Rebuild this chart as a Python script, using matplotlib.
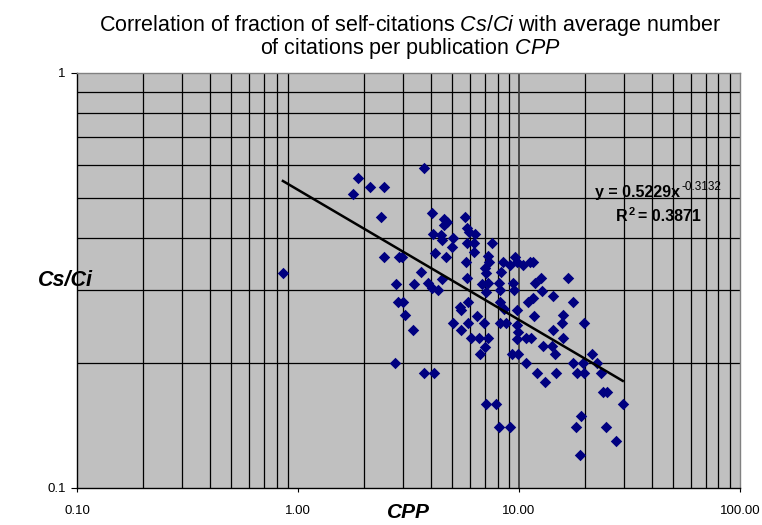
import numpy as np
import matplotlib
matplotlib.use("Agg")
import matplotlib.pyplot as plt

plt.rcParams['font.family'] = ['Liberation Sans', 'DejaVu Sans']
plt.rcParams['mathtext.fontset'] = 'custom'
plt.rcParams['mathtext.rm'] = 'Liberation Sans'
plt.rcParams['mathtext.it'] = 'Liberation Sans:italic'
plt.rcParams['mathtext.bf'] = 'Liberation Sans:bold'

# average number of citations per publication
cpp = [1.87, 2.12, 2.45, 1.77, 2.37, 2.45, 0.855, 2.86, 2.78, 2.83,
       3.72, 4.04, 4.58, 4.72, 4.58, 5.70, 5.82, 5.95, 6.32, 4.08,
       4.44, 4.49, 5.03, 4.97, 5.82, 6.25, 7.55, 4.17, 4.67, 6.25,
       2.95, 7.24, 7.30, 5.76, 8.47, 9.59, 9.80, 9.10, 10.4, 11.2,
       7.02, 7.10, 8.30, 3.60, 3.35, 3.88, 4.04, 4.30, 4.49, 5.82,
       6.80, 7.24, 8.12, 9.40, 9.50, 8.20, 7.10, 5.88, 2.98, 5.41,
       11.0, 8.20,
       11.6, 12.6, 11.8, 16.7, 12.7, 14.3, 17.5, 11.6,
       3.05, 3.31, 3.72, 4.12, 5.03, 5.47, 5.88, 6.45, 6.95, 6.07,
       6.58, 7.24, 7.02, 6.65, 5.47, 8.20, 8.70, 9.80, 9.90, 9.80,
       10.8, 9.30, 9.90, 10.8, 7.10, 7.86, 8.12, 9.10,
       11.7, 15.8, 15.6, 19.7, 14.3, 15.8, 11.4, 12.8, 14.1, 14.5,
       21.4, 17.5, 19.4, 22.6, 12.1, 14.7, 18.3, 19.8, 23.5, 13.1,
       24.0, 25.0, 29.5, 19.1, 18.1, 24.7, 27.5, 18.9,
       2.75, 8.6, 9.8]

# fraction of self-citations Cs/Ci
cs_ci = [0.558, 0.531, 0.531, 0.511, 0.45, 0.36, 0.33, 0.36, 0.31, 0.28,
         0.59, 0.46, 0.445, 0.437, 0.43, 0.45, 0.423, 0.414, 0.41, 0.41,
         0.407, 0.396, 0.40, 0.38, 0.39, 0.39, 0.389, 0.368, 0.36, 0.37,
         0.36, 0.362, 0.35, 0.35, 0.35, 0.36, 0.35, 0.345, 0.345, 0.35,
         0.339, 0.33, 0.332, 0.332, 0.31, 0.312, 0.303, 0.30, 0.319, 0.32,
         0.31, 0.312, 0.312, 0.312, 0.30, 0.30, 0.297, 0.28, 0.28, 0.273,
         0.28, 0.28,
         0.35, 0.32, 0.312, 0.32, 0.298, 0.29, 0.28, 0.287,
         0.261, 0.24, 0.189, 0.189, 0.25, 0.24, 0.25, 0.26, 0.25, 0.23,
         0.23, 0.23, 0.219, 0.21, 0.268, 0.25, 0.25, 0.247, 0.238, 0.229,
         0.23, 0.21, 0.21, 0.20, 0.159, 0.159, 0.14, 0.14,
         0.26, 0.261, 0.25, 0.25, 0.24, 0.23, 0.23, 0.22, 0.22, 0.21,
         0.21, 0.20, 0.20, 0.20, 0.189, 0.189, 0.189, 0.189, 0.189, 0.18,
         0.17, 0.17, 0.159, 0.149, 0.14, 0.14, 0.13, 0.12,
         0.20, 0.27, 0.268]

# power trend line y = a * x^b
fit_a = 0.5229
fit_b = -0.3132
fit_r2 = 0.3871

x_ticks = [0.1, 1, 10, 100]
x_ticklabels = ["0.10", "1.00", "10.00", "100.00"]

fig = plt.figure(figsize=(7.62, 5.25), dpi=100)
ax = fig.add_axes([0.101, 0.0705, 0.870, 0.7905])
ax.set_facecolor('#C0C0C0')
ax.set_xscale('log')
ax.set_yscale('log')
ax.set_xlim(0.1, 100)
ax.set_ylim(0.1, 1)

# grid lines (Excel style: every 1..9 of each decade)
for dec in [0.1, 1, 10]:
    for k in range(2, 10):
        ax.axvline(dec * k, color='black', lw=0.9, zorder=1)
for k in range(2, 10):
    ax.axhline(0.1 * k, color='black', lw=0.9, zorder=1)
ax.axvline(10, color='#404040', lw=1.3, zorder=1)

ax.scatter(cpp, cs_ci, marker='D', s=34, color='#000080', lw=0, zorder=3)

xf = np.logspace(np.log10(min(cpp)), np.log10(max(cpp)), 50)
ax.plot(xf, fit_a * xf ** fit_b, color='black', lw=1.8, zorder=4)

# trend line equation with superscripts
t1 = ax.text(0.781, 0.713, "y = %.4fx" % fit_a, transform=ax.transAxes,
             fontsize=11.5, fontweight='bold', ha='left', va='center', zorder=5)
t2 = ax.text(0.813, 0.653, "R", transform=ax.transAxes,
             fontsize=11.5, fontweight='bold', ha='left', va='center', zorder=5)
fig.canvas.draw()
inv = ax.transAxes.inverted()
bb1 = t1.get_window_extent().transformed(inv)
ax.text(bb1.x1 + 0.002, bb1.y1 - 0.005, "%.4f" % fit_b, transform=ax.transAxes,
        fontsize=8.5, ha='left', va='center', zorder=5)
bb2 = t2.get_window_extent().transformed(inv)
ax.text(bb2.x1 + 0.002, bb2.y1 - 0.005, "2", transform=ax.transAxes,
        fontsize=8, fontweight='bold', ha='left', va='center', zorder=5)
ax.text(bb2.x1 + 0.016, 0.653, "= %.4f" % fit_r2, transform=ax.transAxes,
        fontsize=11.5, fontweight='bold', ha='left', va='center', zorder=5)

ax.minorticks_off()
ax.set_xticks(x_ticks)
ax.set_xticklabels(x_ticklabels, fontsize=9.5)
ax.set_yticks([0.1, 1])
ax.set_yticklabels(["0.1", "1"], fontsize=9.5)
ax.tick_params(axis='x', length=3, pad=9, color='black')
ax.tick_params(axis='y', length=4, pad=4, color='black')
for sp in ax.spines.values():
    sp.set_color('#808080')
    sp.set_linewidth(1.0)
ax.spines['left'].set_color('black')
ax.spines['bottom'].set_color('black')

ax.set_xlabel("CPP", fontsize=15, fontweight='bold', style='italic', va='center')
ax.xaxis.set_label_coords(0.5, -0.058)
ax.set_ylabel("Cs/Ci", fontsize=15.5, fontweight='bold', style='italic',
              rotation=0, va='center', ha='center')
ax.yaxis.set_label_coords(-0.017, 0.5)

fig.text(0.538, 0.951,
         r"Correlation of fraction of self-citations $\mathit{Cs/Ci}$ with average number",
         fontsize=15.5, ha='center', va='center')
fig.text(0.538, 0.907, r"of citations per publication $\mathit{CPP}$",
         fontsize=15.5, ha='center', va='center')

fig.savefig("out.png", dpi=100)
